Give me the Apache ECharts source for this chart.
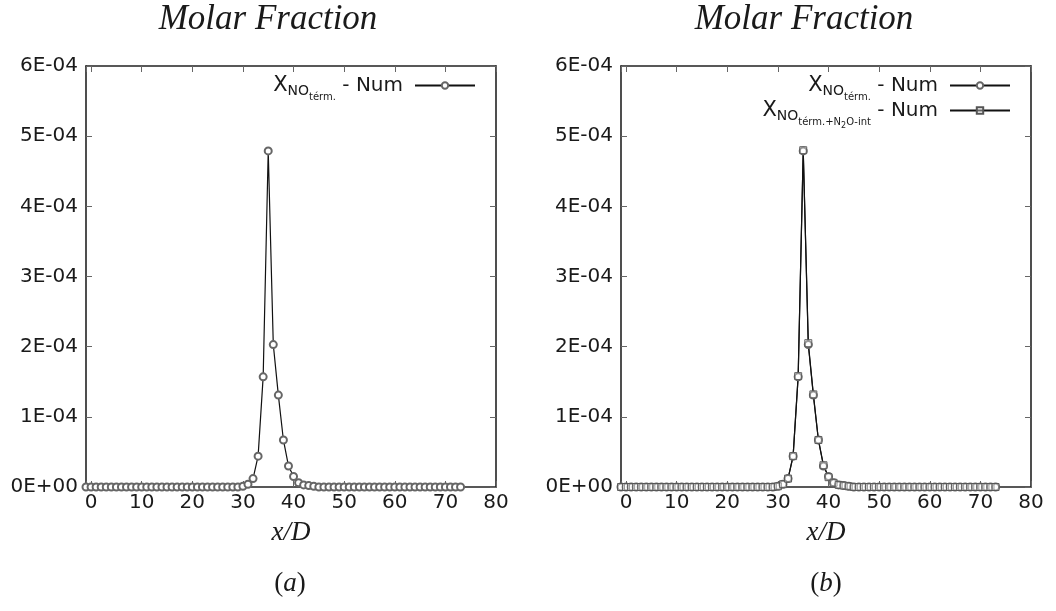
<!DOCTYPE html>
<html><head><meta charset="utf-8">
<script src="https://cdn.jsdelivr.net/npm/echarts@6/dist/echarts.min.js"></script>
<style>html,body{margin:0;padding:0;background:#fff}#c{width:1056px;height:611px}</style>
</head><body><div id="c"></div>
<script>
// ---- data ----
const xPositions = [-1,0,1,2,3,4,5,6,7,8,9,10,11,12,13,14,15,16,17,18,19,20,21,22,23,24,25,26,27,28,29,
  30,31,32,33,34,35,36,37,38,39,40,41,42,43,44,
  45,46,47,48,49,50,51,52,53,54,55,56,57,58,59,60,61,62,63,64,65,66,67,68,69,70,71,72,73];
const noTermNum = [0,0,0,0,0,0,0,0,0,0,0,0,0,0,0,0,0,0,0,0,0,0,0,0,0,0,0,0,0,0,0,
  0.000001,0.000004,0.000012,0.000044,0.000157,0.000479,0.000203,0.000131,0.000067,0.000030,0.000015,0.000006,0.000003,0.000002,0.000001,
  0,0,0,0,0,0,0,0,0,0,0,0,0,0,0,0,0,0,0,0,0,0,0,0,0,0,0,0,0];
const noTermN2oNum = [0,0,0,0,0,0,0,0,0,0,0,0,0,0,0,0,0,0,0,0,0,0,0,0,0,0,0,0,0,0,0,
  0.000001,0.000004,0.000012,0.000044,0.000158,0.000480,0.000205,0.000132,0.000067,0.000031,0.000014,0.000006,0.000003,0.000002,0.000001,
  0,0,0,0,0,0,0,0,0,0,0,0,0,0,0,0,0,0,0,0,0,0,0,0,0,0,0,0,0];
const xTickLabels = ['0','10','20','30','40','50','60','70','80'];
const yTickLabels = ['0E+00','1E-04','2E-04','3E-04','4E-04','5E-04','6E-04'];
const panelTitles = ['Molar Fraction','Molar Fraction'];
const panelLetters = ['a','b'];
const xAxisName = 'x/D';

function pairs(ys){ return xPositions.map((x,i)=>[x, ys[i]]); }

const SANS = 'DejaVu Sans';
const SERIF = 'Liberation Serif';
const INK = '#1a1a1a';
const grids = [
  {left:86, top:66, width:410, height:421},
  {left:621, top:66, width:410, height:421}
];
const axisLine = {show:true, onZero:false, lineStyle:{color:'#222', width:1.6}};
const axisTick = {show:true, inside:true, length:6, lineStyle:{color:'#666', width:1}};

function xFmt(v){
  const i = Math.round(v/10);
  return (v >= 0 && Math.abs(v - i*10) < 1e-9 && xTickLabels[i] !== undefined) ? xTickLabels[i] : '';
}
function yFmt(v){
  const i = Math.round(v/0.0001);
  return yTickLabels[i] !== undefined ? yTickLabels[i] : '';
}

const xAxes = [], yAxes = [];
[0,1].forEach(g => {
  xAxes.push({type:'value', gridIndex:g, min:-1, max:80, splitNumber:8, position:'bottom',
    axisLine, axisTick, splitLine:{show:false},
    axisLabel:{fontFamily:SANS, fontSize:20, color:INK, margin:6, formatter:xFmt, showMinLabel:true},
    name:xAxisName, nameLocation:'middle', nameGap:32,
    nameTextStyle:{fontFamily:SERIF, fontStyle:'italic', fontSize:27, color:INK}});
  xAxes.push({type:'value', gridIndex:g, min:-1, max:80, splitNumber:8, position:'top',
    axisLine, axisTick, splitLine:{show:false}, axisLabel:{show:false}});
  yAxes.push({type:'value', gridIndex:g, min:0, max:0.0006, interval:0.0001, position:'left',
    axisLine, axisTick, splitLine:{show:false},
    axisLabel:{fontFamily:SANS, fontSize:20, color:INK, margin:8, formatter:yFmt}});
  yAxes.push({type:'value', gridIndex:g, min:0, max:0.0006, interval:0.0001, position:'right',
    axisLine, axisTick, splitLine:{show:false}, axisLabel:{show:false}});
});

const lineStyle = {color:'#111', width:1.2};
const series = [
  {type:'line', name:'termL', xAxisIndex:0, yAxisIndex:0, data:pairs(noTermNum),
   symbol:'emptyCircle', symbolSize:7, lineStyle, itemStyle:{color:'#666', borderWidth:0.9}, clip:false},
  {type:'line', name:'termR', xAxisIndex:2, yAxisIndex:2, data:pairs(noTermNum),
   symbol:'emptyCircle', symbolSize:7, lineStyle, itemStyle:{color:'#666', borderWidth:0.9}, clip:false},
  {type:'line', name:'n2oR', xAxisIndex:2, yAxisIndex:2, data:pairs(noTermN2oNum),
   symbol:'rect', symbolSize:7, lineStyle,
   itemStyle:{color:'rgba(255,255,255,0.35)', borderColor:'#555', borderWidth:0.9}, clip:false}
];

const legendText = {
  termL: '{X|X}{s1|NO}{s2|térm.}{n| - Num}',
  termR: '{X|X}{s1|NO}{s2|térm.}{n| - Num}',
  n2oR: '{X|X}{s1|NO}{s2|térm.+N}{s3|2}{s2|O-int}{n| - Num}'
};
const rich = {
  X:{fontFamily:SANS, fontSize:21, color:INK},
  s1:{fontFamily:SANS, fontSize:14, color:INK, padding:[12,0,0,0]},
  s2:{fontFamily:SANS, fontSize:10, color:INK, padding:[24,0,0,0]},
  s3:{fontFamily:SANS, fontSize:8, color:INK, padding:[30,0,0,0]},
  n:{fontFamily:SANS, fontSize:20, color:INK, padding:[0,7,0,0]}
};
function legend(name, right, top){
  return {data:[name], orient:'vertical', align:'right', right, top, padding:0,
    itemWidth:60, itemHeight:8, selectedMode:false,
    formatter:n => legendText[n], textStyle:{rich}};
}

const graphics = [];
[0,1].forEach(g => {
  const cx = [268, 804][g];
  graphics.push({type:'text', x:cx, y:20, style:{text:panelTitles[g], fontFamily:SERIF, fontStyle:'italic',
    fontSize:35, fill:INK, textAlign:'center', textVerticalAlign:'middle'}});
  const lx = [290, 826][g];
  graphics.push({type:'text', x:lx, y:584, style:{text:'{p|(}{i|'+panelLetters[g]+'}{p|)}',
    textAlign:'center', textVerticalAlign:'middle',
    rich:{p:{fontFamily:SERIF, fontSize:27, fill:INK, color:INK}, i:{fontFamily:SERIF, fontStyle:'italic', fontSize:27, fill:INK, color:INK}}}});
});

const chart = echarts.init(document.getElementById('c'), null, {renderer:'canvas'});
chart.setOption({
  animation:false,
  backgroundColor:'#fff',
  grid:grids,
  xAxis:xAxes,
  yAxis:yAxes,
  series,
  legend:[legend('termL', 580, 75), legend('termR', 45, 75), legend('n2oR', 45, 100)],
  graphic:graphics
});
</script></body></html>
